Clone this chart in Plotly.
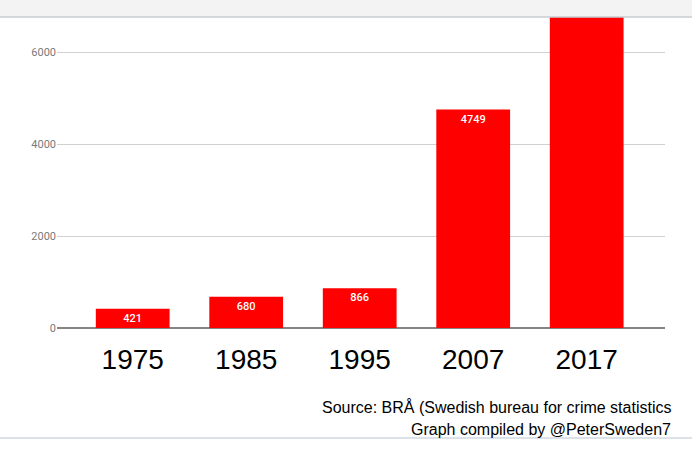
import plotly.graph_objects as go

years = ["1975", "1985", "1995", "2007", "2017"]
cases = [421, 680, 866, 4749, 7230]
bar_labels = ["421", "680", "866", "4749", ""]
y_ticks = [0, 2000, 4000, 6000]

fig = go.Figure()

fig.add_trace(
    go.Bar(
        x=years,
        y=cases,
        text=bar_labels,
        textposition="inside",
        insidetextanchor="end",
        textangle=0,
        textfont=dict(color="white", size=11, family="Roboto", weight=500),
        marker=dict(color="#ff0000", line=dict(width=0)),
        cliponaxis=True,
    )
)

fig.update_layout(
    width=692,
    height=450,
    margin=dict(l=57, r=27, t=17, b=122),
    paper_bgcolor="white",
    plot_bgcolor="white",
    showlegend=False,
    bargap=0.35,
    font=dict(family="Liberation Sans"),
    uniformtext=dict(minsize=8, mode="show"),
    xaxis=dict(
        type="category",
        range=[-0.667, 4.69],
        showgrid=False,
        showline=False,
        zeroline=False,
        ticks="outside",
        ticklen=6,
        tickcolor="white",
        tickfont=dict(size=28, color="black", family="Liberation Sans"),
    ),
    yaxis=dict(
        range=[0, 6761],
        tickvals=y_ticks,
        showgrid=True,
        gridcolor="#d0d0d0",
        gridwidth=1,
        zeroline=True,
        zerolinecolor="#858585",
        zerolinewidth=2,
        showline=False,
        ticks="",
        tickfont=dict(size=11, color="#7a7a7a", family="Roboto"),
    ),
    shapes=[
        # top grey band of the screenshot
        dict(type="rect", xref="paper", yref="paper", x0=-1, x1=2,
             y0=1, y1=1.2, fillcolor="#f3f3f3", line=dict(width=0), layer="above"),
        dict(type="line", xref="paper", yref="paper", x0=-1, x1=2,
             y0=1, y1=1, line=dict(color="#c8ccd0", width=1.5), layer="above"),
        # bottom separator line
        dict(type="line", xref="paper", yref="paper", x0=-1, x1=2,
             y0=-0.354, y1=-0.354, line=dict(color="#cfd8e3", width=1.5)),
    ],
    annotations=[
        dict(text="Source: BRÅ (Swedish bureau for crime statistics",
             xref="paper", yref="paper", x=1.013, y=-0.253,
             xanchor="right", yanchor="middle", showarrow=False,
             font=dict(size=16, color="black", family="Liberation Sans")),
        dict(text="Graph compiled by @PeterSweden7",
             xref="paper", yref="paper", x=1.013, y=-0.327,
             xanchor="right", yanchor="middle", showarrow=False,
             font=dict(size=16, color="black", family="Liberation Sans")),
    ],
)

fig.write_html(
    "out.html",
    config={"displayModeBar": False, "staticPlot": True},
    post_script="document.body.style.margin='0';",
)
